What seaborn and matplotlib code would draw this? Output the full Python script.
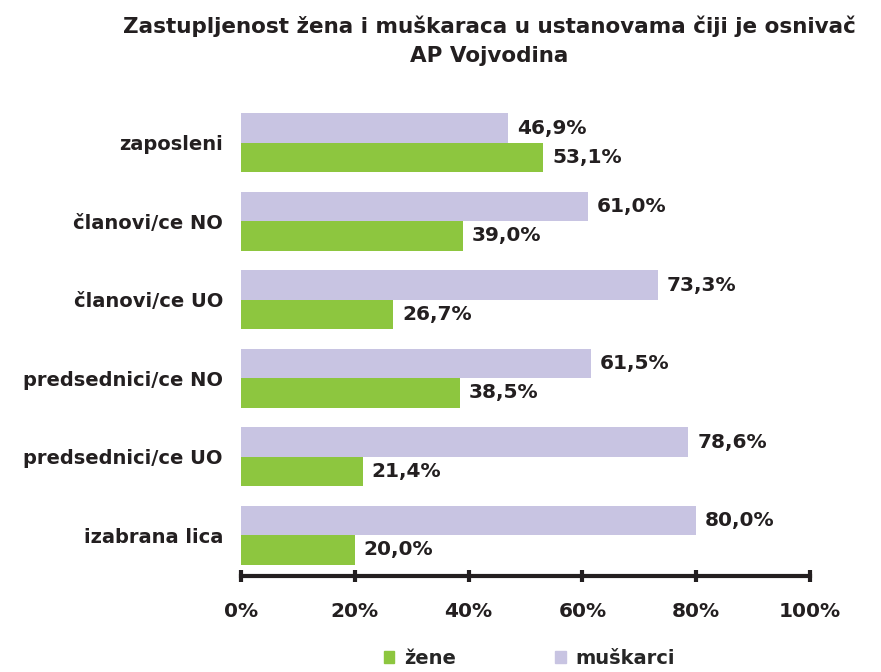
import matplotlib
matplotlib.use("Agg")
import matplotlib.pyplot as plt
from matplotlib.patches import Patch
import seaborn as sns
import pandas as pd

categories = ["zaposleni", "članovi/ce NO", "članovi/ce UO",
              "predsednici/ce NO", "predsednici/ce UO", "izabrana lica"]
muskarci = [46.9, 61.0, 73.3, 61.5, 78.6, 80.0]
zene = [53.1, 39.0, 26.7, 38.5, 21.4, 20.0]
ticks = [0, 20, 40, 60, 80, 100]

colors = {"muškarci": "#C8C4E2", "žene": "#8DC63F"}
ink = "#231F20"

df = pd.DataFrame({
    "kategorija": categories * 2,
    "vrednost": muskarci + zene,
    "pol": ["muškarci"] * len(categories) + ["žene"] * len(categories),
})

sns.set_style("white")
plt.rcParams["font.family"] = ["DejaVu Sans"]

fig = plt.figure(figsize=(8.81, 6.72), dpi=100)
ax = fig.add_axes([241 / 881, 1 - 576 / 672, 569 / 881, 474 / 672])

sns.barplot(data=df, y="kategorija", x="vrednost", hue="pol",
            hue_order=["muškarci", "žene"], palette=colors, order=categories,
            orient="h", width=0.75, saturation=1, linewidth=0, ax=ax,
            legend=False)

for cont in ax.containers:
    labels = [f"{v:.1f}".replace(".", ",") + "%" for v in cont.datavalues]
    ax.bar_label(cont, labels=labels, padding=6.5, fontsize=14.5,
                 fontweight="bold", color=ink)

ax.set_xlim(0, 100)
ax.set_ylim(len(categories) - 0.48, -0.52)
ax.set_xticks(ticks)
ax.set_xticklabels([f"{t}%" for t in ticks], fontsize=14.5, fontweight="bold",
                   color=ink)
ax.tick_params(axis="x", bottom=True, direction="inout", length=9, width=3,
               pad=14, color=ink)
ax.tick_params(axis="y", left=False, length=0, pad=13)
for lbl in ax.get_yticklabels():
    lbl.set_fontsize(14)
    lbl.set_fontweight("bold")
    lbl.set_color(ink)
ax.set_xlabel("")
ax.set_ylabel("")
for side in ["top", "right", "left"]:
    ax.spines[side].set_visible(False)
ax.spines["bottom"].set_linewidth(3)
ax.spines["bottom"].set_color(ink)

fig.suptitle("Zastupljenost žena i muškaraca u ustanovama čiji je osnivač\nAP Vojvodina",
             x=0.555, y=0.977, fontsize=15.5, fontweight="bold", color=ink,
             linespacing=1.55)

handles = [Patch(color=colors["žene"], label="žene"),
           Patch(color=colors["muškarci"], label="muškarci")]
fig.legend(handles=handles, loc="lower center", bbox_to_anchor=(0.601, -0.02),
           ncol=2, frameon=False, handlelength=0.55, handleheight=0.55,
           columnspacing=5.1, handletextpad=0.5,
           prop={"weight": "bold", "size": 14})

fig.savefig("out.png", dpi=100)
